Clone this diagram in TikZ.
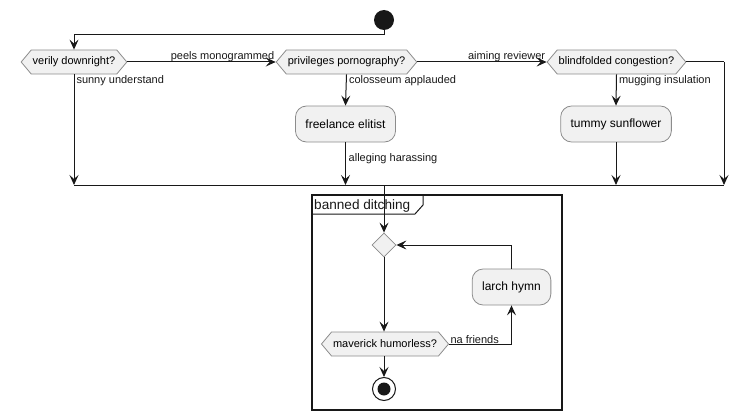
\documentclass[tikz,border=0pt]{standalone}
\usepackage{fontspec}
\setmainfont{Liberation Sans}
\usetikzlibrary{shapes.symbols,shapes.geometric,arrows.meta,calc}
\definecolor{ink}{HTML}{181818}
\definecolor{boxfill}{HTML}{F1F1F1}
\definecolor{boxline}{HTML}{8C8C8C}
\tikzset{
  flow/.style={draw=ink, line width=1pt},
  arr/.style={flow, -{Stealth[length=10pt,width=9pt,inset=4pt]}},
  choice/.style={signal, signal to=west and east, signal pointer angle=100,
    draw=boxline, fill=boxfill, line width=0.8pt, minimum height=24pt,
    inner xsep=1.5pt, inner ysep=0pt, font=\fontsize{11}{13}\selectfont},
  task/.style={rectangle, rounded corners=11pt, draw=boxline, fill=boxfill,
    line width=0.8pt, minimum height=36pt, inner xsep=10pt,
    font=\fontsize{12}{14}\selectfont},
  merge/.style={diamond, draw=boxline, fill=boxfill, line width=0.8pt,
    minimum width=24pt, minimum height=24pt, inner sep=0pt},
  lbl/.style={inner sep=1pt, font=\fontsize{11}{13}\selectfont, text=ink},
}
\begin{document}
\begin{tikzpicture}[x=1pt, y=-1pt]
\useasboundingbox (0,0) rectangle (747,420);

% start
\node[circle, fill=ink, minimum size=20pt, inner sep=0pt] (start) at (384,20) {};

% first row of decisions
\node[choice] (v1) at (74,62) {verily downright?};
\node[choice] (p1) at (346.5,62) {privileges pornography?};
\node[choice] (b1) at (616.5,62) {blindfolded congestion?};

% activities
\node[task] (fe) at (345.5,124) {freelance elitist};
\node[task] (ts) at (616,124) {tummy sunflower};

% merge line and top bend
\coordinate (top) at (384,35);
\coordinate (mrg) at (384,185);
\coordinate (far) at (724,62);

\draw[flow] (start.south) -- (top);
\draw[arr] (top) -| (v1.north);
\draw[arr] (v1.east) -- node[lbl, pos=1, above left, yshift=-1pt] {peels monogrammed} (p1.west);
\draw[arr] (p1.east) -- node[lbl, pos=1, above left, yshift=-1pt] {aiming reviewer} (b1.west);
\draw[arr] (p1.south) -- node[lbl, pos=0, below right, xshift=1pt] {colosseum applauded} (fe.north);
\draw[arr] (b1.south) -- node[lbl, pos=0, below right, xshift=1pt] {mugging insulation} (ts.north);
\draw[arr] (v1.south) -- node[lbl, pos=0, below right, xshift=1pt] {sunny understand} (v1.south |- mrg);
\draw[arr] (fe.south) -- (fe.south |- mrg);
\node[lbl, anchor=north west] at ($(fe.south)+(2,10)$) {alleging harassing};
\draw[arr] (ts.south) -- (ts.south |- mrg);
\draw[flow] (b1.east) -- (far);
\draw[arr] (far) -- (far |- mrg);
\draw[flow] (v1.south |- mrg) -- (far |- mrg);

% group frame
\draw[draw=ink, line width=1.6pt] (312,195) rectangle (562,410);
\draw[draw=ink, line width=1pt] (312,214) -- (415,214) -- (423,205) -- (423,195);
\node[anchor=west, inner sep=0pt, font=\fontsize{13.6}{15}\selectfont, text=ink] (gt) at (314,205.5) {banned ditching};

% loop inside the frame
\node[merge] (d1) at (384,245) {};
\node[choice] (mh) at (385,344) {maverick humorless?};
\node[task] (lh) at (511.5,287) {larch hymn};
\node[circle, draw=ink, fill=white, line width=1pt, minimum size=23pt, inner sep=0pt] (stop) at (384,389) {};
\node[circle, fill=ink, minimum size=13pt, inner sep=0pt] at (stop) {};

\draw[arr] (mrg) -- (d1.north);
\draw[arr] (d1.south) -- (d1.south |- mh.north);
\draw[arr] (mh.east) -| node[lbl, pos=0, above right, yshift=-1pt] {na friends} (lh.south);
\draw[arr] (lh.north) |- (d1.east);
\draw[arr] (mh.south -| stop) -- (stop.north);
\end{tikzpicture}
\end{document}
